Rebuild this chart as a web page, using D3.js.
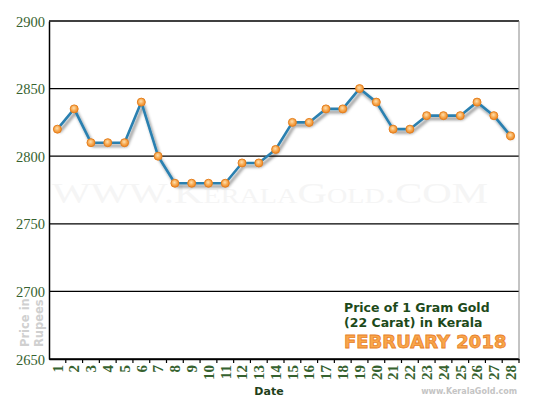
<!DOCTYPE html>
<html>
<head>
<meta charset="utf-8">
<script src="https://cdn.jsdelivr.net/npm/d3@7"></script>
<style>
  body { margin: 0; background: #fff; }
  svg { display: block; }
</style>
</head>
<body>
<svg width="550" height="400"></svg>
<script>
const w = 550;
const h = 400;
const margin = { top: 21, right: 31, bottom: 41, left: 49 };

// Price of 1 gram 22 carat gold, Kerala, February 2018
const days = d3.range(1, 29);
const prices = [
	2820, 2835, 2810, 2810, 2810, 2840, 2800, 2780, 2780, 2780,
	2780, 2795, 2795, 2805, 2825, 2825, 2835, 2835, 2850, 2840,
	2820, 2820, 2830, 2830, 2830, 2840, 2830, 2815,
];
const yTicks = [2650, 2700, 2750, 2800, 2850, 2900];

const data = days.map((d, i) => ({ day: d, price: prices[i] }));

let canvas = d3.select('svg');

const xScale = d3
	.scaleBand()
	.domain(days)
	.range([margin.left, w - margin.right]);

const yScale = d3
	.scaleLinear()
	.domain([2650, 2900])
	.range([h - margin.bottom, margin.top]);

const defs = canvas.append('defs');
const shadow = defs.append('filter').attr('id', 'shadow').attr('x', '-20%').attr('y', '-20%').attr('width', '140%').attr('height', '140%');
shadow
	.append('feDropShadow')
	.attr('dx', 2)
	.attr('dy', 3)
	.attr('stdDeviation', 1.6)
	.attr('flood-color', '#000')
	.attr('flood-opacity', 0.45);

const grad = defs.append('radialGradient').attr('id', 'dot').attr('cx', '45%').attr('cy', '40%').attr('r', '60%');
grad.append('stop').attr('offset', '0%').attr('stop-color', '#fde0b0');
grad.append('stop').attr('offset', '60%').attr('stop-color', '#f7a54a');
grad.append('stop').attr('offset', '100%').attr('stop-color', '#ee8a2a');

// watermark
canvas
	.append('text')
	.attr('x', 52)
	.attr('y', 203)
	.attr('textLength', 436)
	.attr('lengthAdjust', 'spacingAndGlyphs')
	.style('font-family', 'Liberation Serif, DejaVu Serif, serif')
	.style('font-variant', 'small-caps')
	.style('font-size', '29px')
	.style('fill', '#f5f5f5')
	.text('WWW.KeralaGold.COM');

// gridlines
canvas
	.append('g')
	.selectAll('line')
	.data(yTicks)
	.enter()
	.append('line')
	.attr('x1', margin.left)
	.attr('x2', w - margin.right)
	.attr('y1', (d) => yScale(d))
	.attr('y2', (d) => yScale(d))
	.attr('stroke', '#000')
	.attr('stroke-width', 1.3);

// right border
canvas
	.append('line')
	.attr('x1', w - margin.right)
	.attr('x2', w - margin.right)
	.attr('y1', margin.top)
	.attr('y2', h - margin.bottom)
	.attr('stroke', '#888')
	.attr('stroke-width', 1);

// y axis
const yAxis = d3.axisLeft(yScale).tickValues(yTicks).tickFormat(d3.format('d')).tickSize(0).tickPadding(4);
const yG = canvas.append('g').attr('transform', `translate(${margin.left},0)`).call(yAxis);
yG.select('.domain').attr('stroke', '#000').attr('stroke-width', 1.5);
yG.selectAll('text')
	.style('font-family', 'Liberation Serif, DejaVu Serif, serif')
	.style('font-size', '14.5px')
	.style('fill', '#36622f')
	.attr('dy', '0.35em');

// x axis: ticks sit between the days
const xAxis = d3.axisBottom(xScale).tickSize(0).tickPadding(0);
const xG = canvas.append('g').attr('transform', `translate(0,${h - margin.bottom})`).call(xAxis);
xG.select('.domain').attr('stroke', '#000').attr('stroke-width', 1.5);
xG.selectAll('.tick line').remove();
xG.selectAll('.tick text')
	.attr('transform', 'rotate(-90)')
	.attr('x', -6)
	.attr('y', 0)
	.attr('dy', '0.35em')
	.style('text-anchor', 'end')
	.style('font-family', 'Liberation Serif, DejaVu Serif, serif')
	.style('font-weight', 'bold')
	.style('font-size', '15px')
	.style('fill', '#36622f');
xG.selectAll('.sep')
	.data(days)
	.enter()
	.append('line')
	.attr('class', 'sep')
	.attr('x1', (d) => xScale(d) + xScale.bandwidth())
	.attr('x2', (d) => xScale(d) + xScale.bandwidth())
	.attr('y1', 0)
	.attr('y2', 4)
	.attr('stroke', '#000')
	.attr('stroke-width', 1.2);

// line
const line = d3
	.line()
	.x((d) => xScale(d.day) + xScale.bandwidth() / 2)
	.y((d) => yScale(d.price));

canvas
	.append('path')
	.datum(data)
	.attr('d', line)
	.attr('fill', 'none')
	.attr('stroke', '#2b80b0')
	.attr('stroke-width', 2.6)
	.attr('stroke-linejoin', 'round')
	.attr('filter', 'url(#shadow)');

canvas
	.append('g')
	.selectAll('circle')
	.data(data)
	.enter()
	.append('circle')
	.attr('cx', (d) => xScale(d.day) + xScale.bandwidth() / 2)
	.attr('cy', (d) => yScale(d.price))
	.attr('r', 4)
	.attr('fill', 'url(#dot)')
	.attr('stroke', '#e5801f')
	.attr('stroke-width', 1);

// axis titles
canvas
	.append('text')
	.attr('x', 269)
	.attr('y', 395)
	.style('text-anchor', 'middle')
	.style('font-family', 'DejaVu Sans, Verdana, sans-serif')
	.style('font-weight', 'bold')
	.style('font-size', '11px')
	.style('fill', '#1f3f1a')
	.text('Date');

const yTitle = canvas
	.append('text')
	.attr('transform', 'translate(0,347) rotate(-90)')
	.style('font-family', 'DejaVu Sans, Verdana, sans-serif')
	.style('font-weight', 'bold')
	.style('font-size', '11.5px')
	.style('fill', '#d0d0d0');
yTitle.append('tspan').attr('x', 0).attr('y', 29).text('Price in');
yTitle.append('tspan').attr('x', 0).attr('y', 43).text('Rupees');

canvas
	.append('text')
	.attr('x', 517)
	.attr('y', 394)
	.style('text-anchor', 'end')
	.style('font-family', 'DejaVu Sans, Verdana, sans-serif')
	.style('font-weight', 'bold')
	.style('font-size', '8px')
	.style('fill', '#c4c4c4')
	.text('www.KeralaGold.com');

// caption
const cap = canvas
	.append('text')
	.style('font-family', 'DejaVu Sans, Verdana, sans-serif')
	.style('font-weight', 'bold')
	.style('font-size', '12.5px')
	.style('fill', '#1d4a1a');
cap.append('tspan').attr('x', 344).attr('y', 312).text('Price of 1 Gram Gold');
cap.append('tspan').attr('x', 344).attr('y', 327).text('(22 Carat) in Kerala');

canvas
	.append('text')
	.attr('x', 344)
	.attr('y', 348)
	.style('font-family', 'DejaVu Sans, Verdana, sans-serif')
	.style('font-weight', 'bold')
	.style('font-size', '18px')
	.style('fill', '#f9a64a')
	.style('stroke', '#e8822a')
	.style('stroke-width', 0.8)
	.text('FEBRUARY 2018');
</script>
</body>
</html>
